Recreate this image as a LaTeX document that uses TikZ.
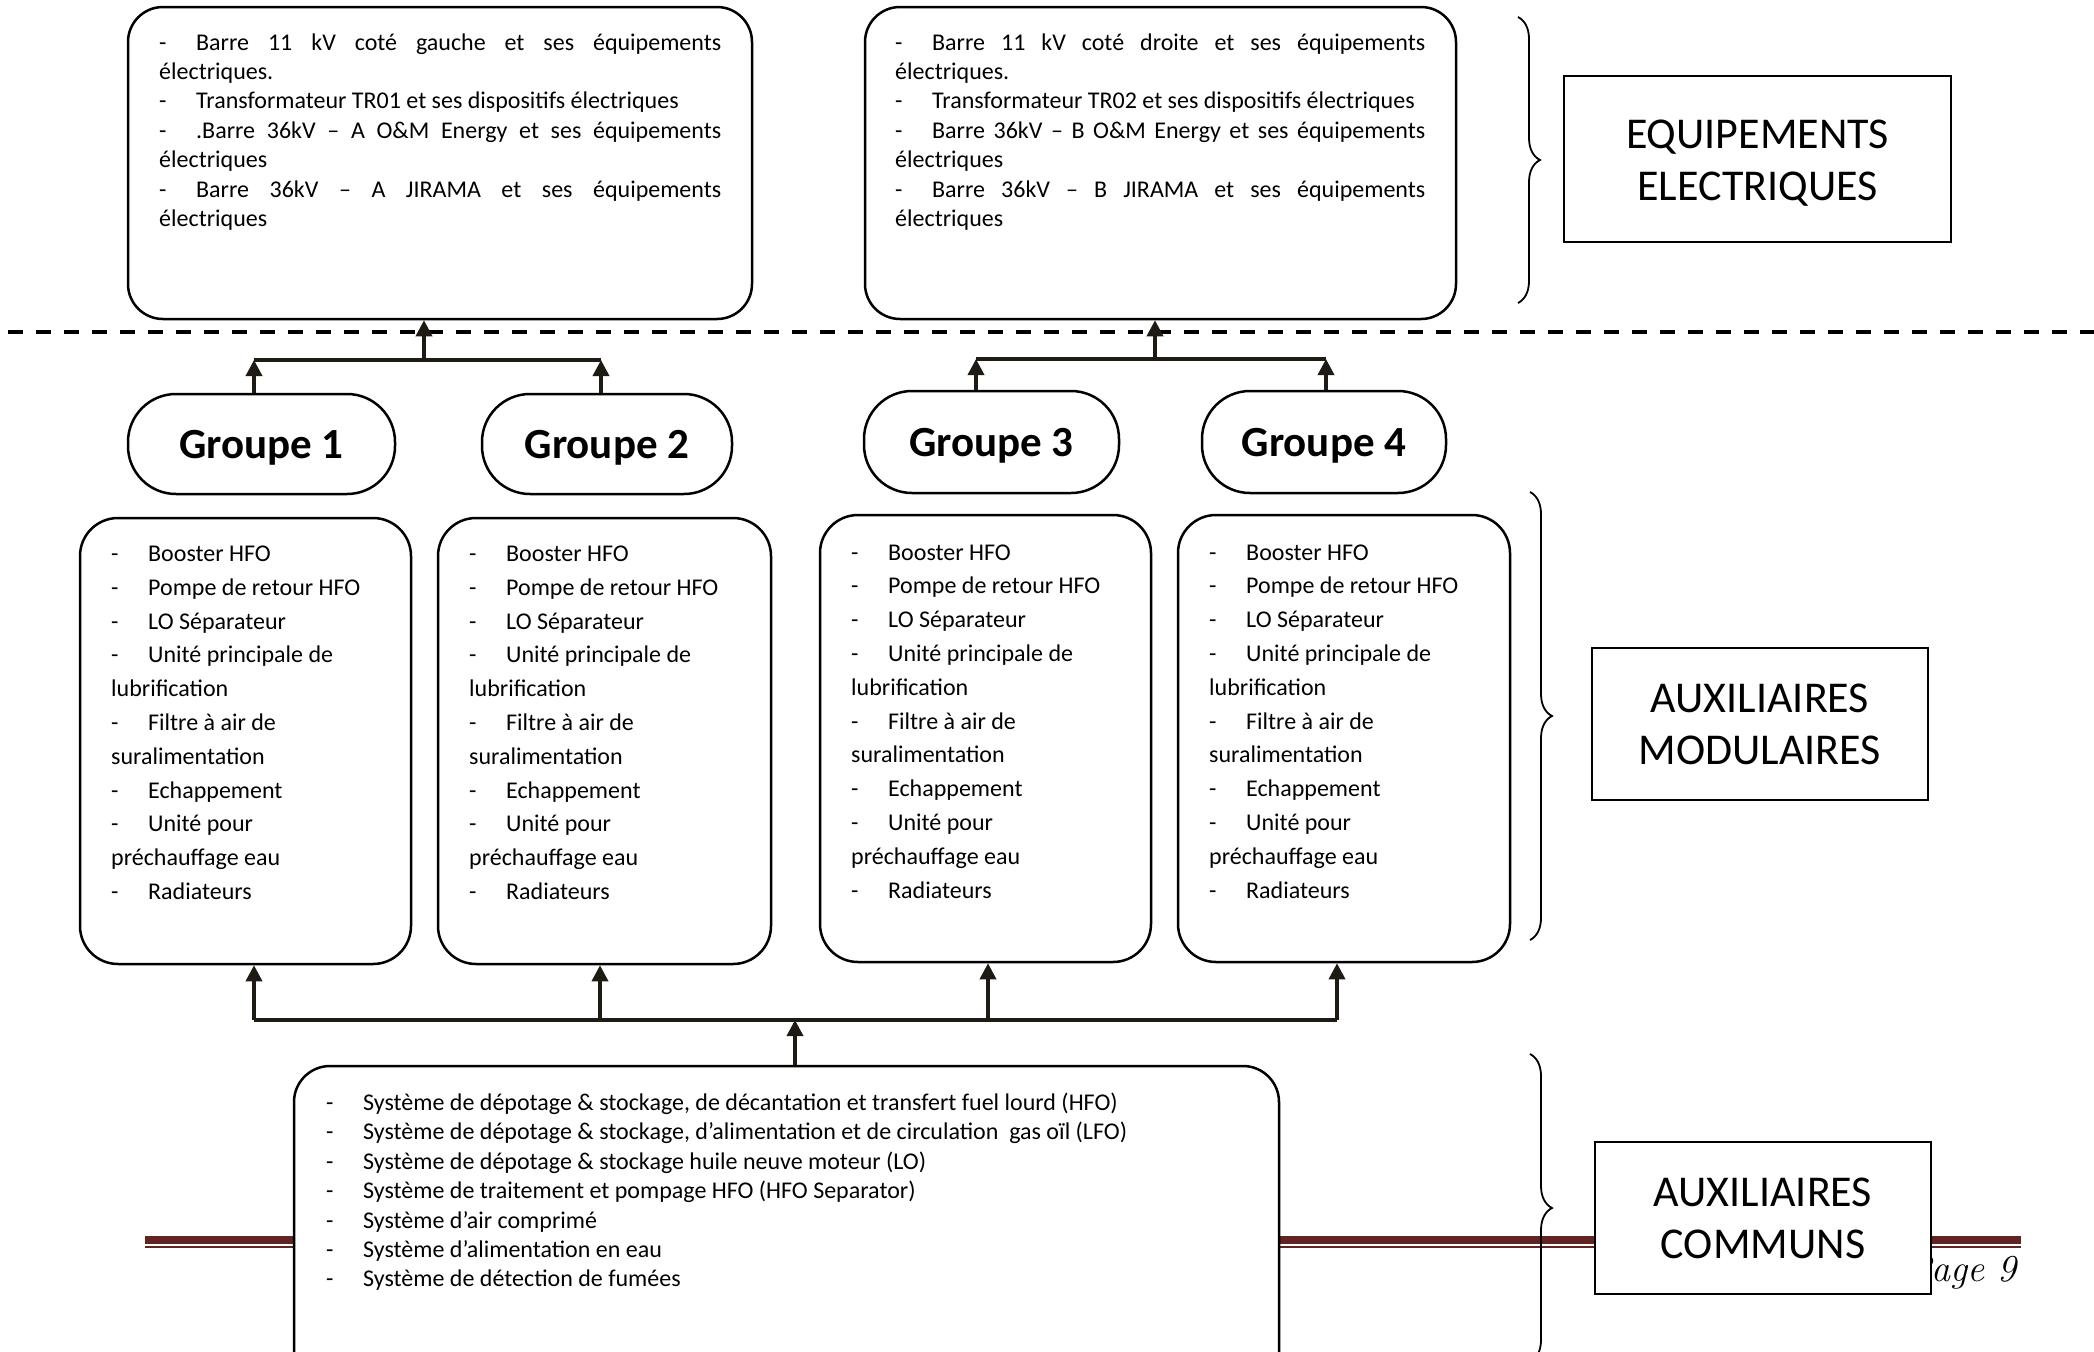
\documentclass[tikz,border=0pt]{standalone}
\usepackage{fontspec}
\newfontfamily\calfont{Carlito}
\usetikzlibrary{arrows.meta,decorations.pathreplacing}
\definecolor{lineC}{RGB}{30,27,20}
\definecolor{footC}{HTML}{622423}
\newcommand\dsh[1]{\makebox[37pt][l]{-}#1}
\newcommand\jA[1]{\makebox[562pt][s]{#1}}
\newcommand\jB[1]{\makebox[530pt][s]{#1}}
\begin{document}
\begin{tikzpicture}[x=1pt,y=-1pt,
  box/.style={draw=black, line width=2.5pt, fill=white, rounded corners=#1, inner sep=0pt},
  box/.default=35pt,
  lab/.style={draw=black, line width=2pt, fill=white, align=center, inner sep=0pt,
    font=\calfont\fontsize{44}{52}\selectfont},
  labtxt/.style={align=center, inner sep=0pt, font=\calfont\fontsize{44}{52}\selectfont},
  grp/.style={box=48pt, text depth=0pt, font=\calfont\bfseries\fontsize{43}{52}\selectfont},
  txt/.style={anchor=base west, inner sep=0pt, font=\calfont\fontsize{24}{29}\selectfont},
  conn/.style={draw=lineC, line width=3.5pt},
  arr/.style={conn, -{Triangle[width=16pt,length=16pt]}},
  brc/.style={draw=black, decorate, decoration={brace, amplitude=22pt}, line width=1.8pt}]
\useasboundingbox (0,0) rectangle (2094,1352);
\clip (0,0) rectangle (2094,1352);
\fill[white] (0,0) rectangle (2094,1352);

% footer
\fill[footC] (145,1236) rectangle (2021,1244);
\fill[footC] (145,1246) rectangle (2021,1247.5);
\node[anchor=base east, inner sep=0pt, font=\itshape\fontsize{38}{44}\selectfont] (pg) at (2017,1281) {Page 9};

% dashed separator
\draw[line width=4pt, dash pattern=on 15pt off 13pt] (8,331.5) -- (2094,331.5);

% top boxes
\node[box=35pt, minimum width=624pt, minimum height=312pt] (b1) at (440,163) {};
\node[box=35pt, minimum width=591pt, minimum height=312pt] (b2) at (1160.5,163) {};
\foreach \t [count=\i] in {
  {\jA{\dsh{Barre 11 kV coté gauche et ses équipements}}},
  {électriques.},
  {\dsh{Transformateur TR01 et ses dispositifs électriques}},
  {\jA{\dsh{.Barre 36kV – A O\&M Energy et ses équipements}}},
  {électriques},
  {\jA{\dsh{Barre 36kV – A JIRAMA et ses équipements}}},
  {électriques}}
  \node[txt] (b1-\i) at (159,{50+(\i-1)*29.4}) {\t};
\foreach \t [count=\i] in {
  {\jB{\dsh{Barre 11 kV coté droite et ses équipements}}},
  {électriques.},
  {\dsh{Transformateur TR02 et ses dispositifs électriques}},
  {\jB{\dsh{Barre 36kV – B O\&M Energy et ses équipements}}},
  {électriques},
  {\jB{\dsh{Barre 36kV – B JIRAMA et ses équipements}}},
  {électriques}}
  \node[txt] (b2-\i) at (895,{50+(\i-1)*29.4}) {\t};

% label boxes
\node[lab, minimum width=387pt, minimum height=166pt] (eq) at (1757.5,159) {};
\node[labtxt] (eqt) at ([yshift=-4pt]eq.center) {EQUIPEMENTS\\ELECTRIQUES};
\node[lab, minimum width=336pt, minimum height=152pt] (am) at (1760,724) {AUXILIAIRES\\MODULAIRES};

% braces
\draw[brc] (1518,17) -- (1518,303);
\draw[brc] (1530,492) -- (1530,940);
\draw[brc] (1530,1054) -- (1530,1362);

% groupes
\node[grp, minimum width=267pt, minimum height=100pt] (g1) at (261.5,444) {Groupe 1};
\node[grp, minimum width=250pt, minimum height=100pt] (g2) at (607,444) {Groupe 2};
\node[grp, minimum width=255pt, minimum height=102pt] (g3) at (991.5,442) {Groupe 3};
\node[grp, minimum width=244pt, minimum height=102pt] (g4) at (1324,442) {Groupe 4};

% module boxes
\node[box=38pt, minimum width=331pt, minimum height=446pt] (m1) at (245.5,741) {};
\node[box=38pt, minimum width=333pt, minimum height=446pt] (m2) at (604.5,741) {};
\node[box=38pt, minimum width=331pt, minimum height=447pt] (m3) at (985.5,738.5) {};
\node[box=38pt, minimum width=332pt, minimum height=447pt] (m4) at (1344,738.5) {};
\foreach \k/\bx/\by in {1/111/561.5, 2/469/561.5, 3/851/560, 4/1209/560}
  \foreach \t [count=\i] in {
    {\dsh{Booster HFO}}, {\dsh{Pompe de retour HFO}}, {\dsh{LO Séparateur}},
    {\dsh{Unité principale de}}, {lubrification}, {\dsh{Filtre à air de}},
    {suralimentation}, {\dsh{Echappement}}, {\dsh{Unité pour}},
    {préchauffage eau}, {\dsh{Radiateurs}}}
    \node[txt] (m\k-\i) at (\bx,{\by+(\i-1)*33.8}) {\t};

% common box
\node[box=36pt, minimum width=985pt, minimum height=354pt] (cm) at (786.5,1243) {};
\foreach \t [count=\i] in {
  {\dsh{Système de dépotage \& stockage, de décantation et transfert fuel lourd (HFO)}},
  {\dsh{Système de dépotage \& stockage, d’alimentation et de circulation\ \ gas oïl (LFO)}},
  {\dsh{Système de dépotage \& stockage huile neuve moteur (LO)}},
  {\dsh{Système de traitement et pompage HFO (HFO Separator)}},
  {\dsh{Système d’air comprimé}},
  {\dsh{Système d’alimentation en eau}},
  {\dsh{Système de détection de fumées}}}
  \node[txt] (c-\i) at (326,{1110.5+(\i-1)*29.4}) {\t};
\node[lab, minimum width=336pt, minimum height=152pt] (ac) at (1763,1218) {AUXILIAIRES\\COMMUNS};

% connectors top
\coordinate (ja) at (254,360);
\coordinate (jb) at (601,360);
\coordinate (jm) at (424,360);
\draw[arr] (ja |- g1.north) -- (ja);
\draw[arr] (jb |- g2.north) -- (jb);
\draw[conn] (ja) -- (jb);
\draw[arr] (jm) -- (jm |- b1.south);
\coordinate (jc) at (976,359);
\coordinate (jd) at (1326,359);
\coordinate (jn) at (1155,359);
\draw[arr] (jc |- g3.north) -- (jc);
\draw[arr] (jd |- g4.north) -- (jd);
\draw[conn] (jc) -- (jd);
\draw[arr] (jn) -- (jn |- b2.south);

% connectors bottom
\coordinate (u1) at (254,1020);
\coordinate (u2) at (600,1020);
\coordinate (u3) at (988,1020);
\coordinate (u4) at (1337,1020);
\coordinate (um) at (795,1020);
\draw[conn] (u1) -- (u4);
\foreach \k in {1,2,3,4} \draw[arr] (u\k) -- (u\k |- m\k.south);
\draw[arr] (um |- cm.north) -- (um);
\end{tikzpicture}
\end{document}
